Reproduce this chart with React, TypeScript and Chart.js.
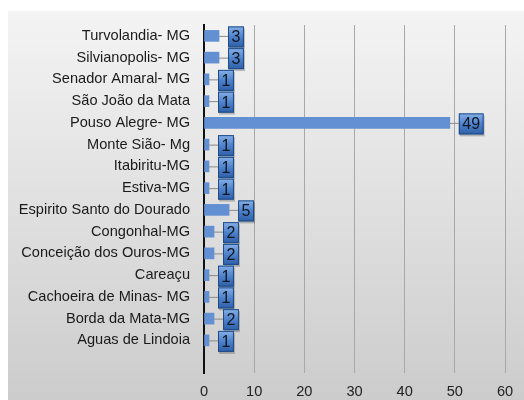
import React, { useEffect, useRef } from "react";
import { Chart, registerables } from "chart.js";

Chart.register(...registerables);

const categories = [
  "Turvolandia- MG",
  "Silvianopolis- MG",
  "Senador Amaral- MG",
  "São João da Mata",
  "Pouso Alegre- MG",
  "Monte Sião- Mg",
  "Itabiritu-MG",
  "Estiva-MG",
  "Espirito Santo do Dourado",
  "Congonhal-MG",
  "Conceição dos Ouros-MG",
  "Careaçu",
  "Cachoeira de Minas- MG",
  "Borda da Mata-MG",
  "Aguas de Lindoia",
  "",
];
const values: (number | null)[] = [3, 3, 1, 1, 49, 1, 1, 1, 5, 2, 2, 1, 1, 2, 1, null];
const xMin = 0;
const xMax = 60;
const xStep = 10;

const FONT = "'Liberation Sans', Arial, sans-serif";

const bgPlugin = {
  id: "bg",
  beforeDraw(chart: any) {
    const { ctx, width, height } = chart;
    ctx.save();
    ctx.fillStyle = "#ffffff";
    ctx.fillRect(0, 0, width, height);
    const g = ctx.createLinearGradient(0, 11, 0, height);
    g.addColorStop(0, "#f4f4f4");
    g.addColorStop(1, "#cccccc");
    ctx.fillStyle = g;
    ctx.fillRect(8, 11, width - 8, height - 11);
    ctx.restore();
  },
};

const labelPlugin = {
  id: "boxLabels",
  afterDatasetsDraw(chart: any) {
    const { ctx } = chart;
    const meta = chart.getDatasetMeta(0);
    ctx.save();
    ctx.font = `16px ${FONT}`;
    meta.data.forEach((el: any, i: number) => {
      const v = values[i];
      if (v === null || v === undefined) return;
      const xe = el.x;
      const yc = el.y;
      const text = String(v);
      const tw = ctx.measureText(text).width;
      const bw = tw + 7;
      const bh = 21;
      const bx = xe + 9;
      const by = yc - bh / 2 + 1;
      ctx.strokeStyle = "#8a8a8a";
      ctx.lineWidth = 1;
      ctx.beginPath();
      ctx.moveTo(xe, yc + 0.5);
      ctx.lineTo(bx, yc + 0.5);
      ctx.stroke();
      ctx.fillStyle = "rgba(0,0,0,0.22)";
      ctx.fillRect(bx + 1, by + 2, bw, bh);
      const g = ctx.createLinearGradient(0, by, 0, by + bh);
      g.addColorStop(0, "#86b0e8");
      g.addColorStop(0.5, "#4f82cc");
      g.addColorStop(1, "#2d5fa8");
      ctx.fillStyle = g;
      ctx.fillRect(bx, by, bw, bh);
      ctx.strokeStyle = "#1f4a85";
      ctx.strokeRect(bx + 0.5, by + 0.5, bw - 1, bh - 1);
      ctx.fillStyle = "#0e1620";
      ctx.textAlign = "center";
      ctx.textBaseline = "middle";
      ctx.fillText(text, bx + bw / 2, by + bh / 2 + 1);
    });
    ctx.restore();
  },
};

export default function App() {
  const ref = useRef<HTMLCanvasElement>(null);
  useEffect(() => {
    if (!ref.current) return;
    const chart = new Chart(ref.current, {
      type: "bar",
      data: {
        labels: categories,
        datasets: [
          {
            data: values,
            backgroundColor: "#6390d2",
            borderWidth: 0,
            barThickness: 11,
          },
        ],
      },
      options: {
        indexAxis: "y",
        animation: false,
        responsive: false,
        maintainAspectRatio: false,
        layout: { padding: { top: 25, right: 19, left: 0, bottom: 0 } },
        plugins: {
          legend: { display: false },
          tooltip: { enabled: false },
        },
        scales: {
          x: {
            min: xMin,
            max: xMax,
            ticks: {
              stepSize: xStep,
              color: "#222222",
              font: { family: FONT, size: 14.6 },
              padding: 10,
            },
            grid: { color: "#a8a8a8", drawTicks: false, lineWidth: 1 },
            border: { display: false },
            afterFit(scale: any) {
              scale.height = 27;
            },
          },
          y: {
            ticks: {
              color: "#1a1a1a",
              font: { family: FONT, size: 14.6 },
              padding: 14,
              autoSkip: false,
            },
            grid: { display: false, drawTicks: false },
            border: { display: true, color: "#111111", width: 2 },
            afterFit(scale: any) {
              scale.width = 204;
            },
          },
        },
      },
      plugins: [bgPlugin, labelPlugin],
    });
    return () => chart.destroy();
  }, []);
  return (
    <div style={{ position: "fixed", left: 0, top: 0, width: 524, height: 400 }}>
      <canvas ref={ref} width={524} height={400} style={{ width: 524, height: 400 }} />
    </div>
  );
}
